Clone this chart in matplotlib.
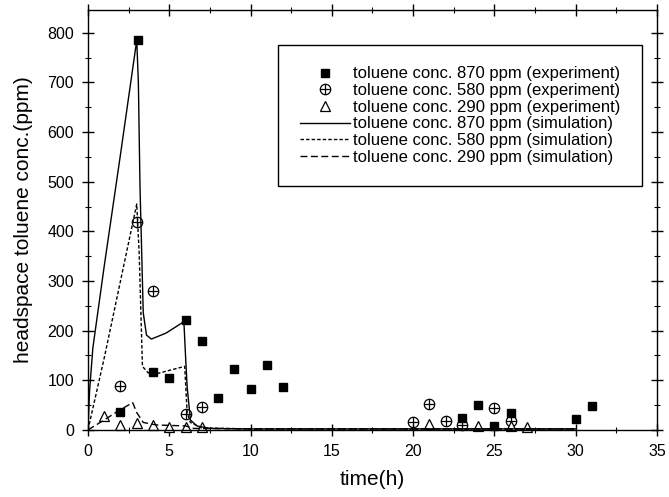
import numpy as np
import matplotlib.pyplot as plt
from matplotlib.legend_handler import HandlerTuple

# experiment data
t_870 = [2, 3.1, 4, 5, 6, 7, 8, 9, 10, 11, 12, 23, 24, 25, 26, 30, 31]
c_870 = [37, 786, 117, 104, 221, 180, 64, 123, 83, 130, 86, 24, 50, 7, 34, 21, 49]
t_580 = [2, 3, 4, 6, 7, 20, 21, 22, 23, 25, 26]
c_580 = [89, 418, 279, 33, 46, 15, 52, 18, 10, 44, 18]
t_290 = [1, 2, 3, 4, 5, 6, 7, 21, 24, 26, 27]
c_290 = [28, 10, 13, 10, 6, 5, 5, 12, 8, 7, 5]

# simulation curves
st_870 = [0, 0.1, 0.3, 1, 2, 3, 3.1, 3.2, 3.4, 3.6, 3.9, 4.8, 5.9, 6.0, 6.1, 6.3, 6.7, 7.5, 10, 20, 30]
sc_870 = [0, 80, 165, 330, 555, 785, 700, 490, 236, 191, 183, 195, 218, 150, 87, 20, 8, 3, 2, 2, 2]
st_580 = [0, 1, 2, 3, 3.15, 3.35, 3.7, 4.2, 5.95, 6.1, 6.3, 7, 10, 20, 30]
sc_580 = [0, 145, 300, 455, 356, 128, 115, 113, 128, 35, 15, 4, 2, 2, 2]
st_290 = [0, 1, 1.8, 2.75, 3.0, 3.4, 4.2, 6, 6.5, 10, 20, 30]
sc_290 = [0, 20, 37, 55, 35, 15, 10, 8, 3, 2, 2, 2]

plt.rcParams['font.family'] = ['Liberation Sans', 'DejaVu Sans']

fig, ax = plt.subplots(figsize=(6.69, 4.97), dpi=100)
fig.subplots_adjust(left=0.1315, right=0.982, bottom=0.135, top=0.98)

h1, = ax.plot(t_870, c_870, 's', color='black', ms=6, ls='none', clip_on=False)
h2a, = ax.plot(t_580, c_580, 'o', mfc='none', mec='black', ms=7.5, mew=0.9, ls='none', clip_on=False)
h2b, = ax.plot(t_580, c_580, '+', color='black', ms=7.5, mew=0.9, ls='none', clip_on=False)
h3, = ax.plot(t_290, c_290, '^', mfc='white', mec='black', ms=7, mew=0.9, ls='none', clip_on=False)
h4, = ax.plot(st_870, sc_870, '-', color='black', lw=1)
h5, = ax.plot(st_580, sc_580, color='black', lw=1, ls=(0, (2.5, 1.5)))
h6, = ax.plot(st_290, sc_290, color='black', lw=1, ls=(0, (5, 2.5)))

ax.set_xlim(0, 35)
ax.set_ylim(0, 846)
ax.set_xticks(np.arange(0, 36, 5))
ax.set_xticks(np.arange(0, 35, 2.5), minor=True)
ax.set_yticks(np.arange(0, 801, 100))
ax.set_yticks(np.arange(0, 846, 50), minor=True)
ax.tick_params(which='both', direction='inout', top=True, right=True, labelsize=11.5)
ax.tick_params(which='major', length=8, width=1, pad=6)
ax.tick_params(which='minor', length=5, width=0.8)
for s in ax.spines.values():
    s.set_linewidth(1)

ax.set_xlabel('time(h)', fontsize=15, labelpad=8)
ax.set_ylabel('headspace toluene conc.(ppm)', fontsize=15, labelpad=10)

labels = ['toluene conc. 870 ppm (experiment)',
          'toluene conc. 580 ppm (experiment)',
          'toluene conc. 290 ppm (experiment)',
          'toluene conc. 870 ppm (simulation)',
          'toluene conc. 580 ppm (simulation)',
          'toluene conc. 290 ppm (simulation)']
leg = ax.legend([h1, (h2a, h2b), h3, h4, h5, h6], labels,
                handler_map={tuple: HandlerTuple(ndivide=1)},
                loc='upper right', bbox_to_anchor=(0.974, 0.917), borderaxespad=0,
                fontsize=12, frameon=True, fancybox=False, edgecolor='black', framealpha=1,
                handlelength=3.0, labelspacing=0.1, borderpad=1.3, handletextpad=0.2)
leg.get_frame().set_linewidth(1)

plt.savefig('out.png', dpi=100)
